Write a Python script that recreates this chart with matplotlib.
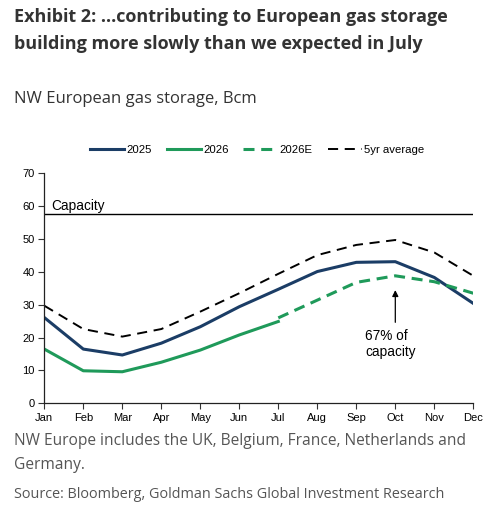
import matplotlib
matplotlib.use("Agg")
import matplotlib.pyplot as plt

# NW European gas storage, Bcm
months = ["Jan", "Feb", "Mar", "Apr", "May", "Jun", "Jul", "Aug", "Sep", "Oct", "Nov", "Dec"]
s2025 = [26.1, 16.5, 14.7, 18.3, 23.3, 29.4, 34.7, 40.1, 42.9, 43.1, 38.3, 30.4]
s2026 = [16.5, 9.9, 9.6, 12.5, 16.2, 20.8, 24.9]
s2026e = [26.0, 31.4, 36.8, 38.8, 37.0, 33.5]   # Jul..Dec
avg5 = [29.7, 22.6, 20.3, 22.6, 27.9, 33.5, 39.4, 45.1, 48.2, 49.7, 45.9, 38.8]
capacity = 57.5

navy = "#1b3d66"
green = "#1f9a5a"

fig = plt.figure(figsize=(5.0, 5.21), dpi=100)
W, H = 500, 521

def fx(px):
    return px / W

def fy(py):
    return 1 - py / H

ax = fig.add_axes([fx(44.3), fy(403.3), fx(473.3) - fx(44.3), fy(173.3) - fy(403.3)])

x = list(range(12))
ax.plot(x, s2025, color=navy, lw=2.2, label="2025")
ax.plot(x[:7], s2026, color=green, lw=2.2, label="2026")
ax.plot(x[6:], s2026e, color=green, lw=2.2, ls=(0, (3.6, 2.2)), label="2026E")
ax.plot(x, avg5, color="black", lw=1.4, ls=(0, (5.2, 3.4)), label="5yr average")
ax.axhline(capacity, color="black", lw=1.0)
ax.text(0.18, capacity + 0.5, "Capacity", fontsize=9.8, family="Liberation Sans", va="bottom")

ax.annotate("", xy=(9, 35.3), xytext=(9, 23.8),
            arrowprops=dict(arrowstyle="-|>", color="black", lw=0.9, mutation_scale=9))
ax.text(8.22, 22.6, "67% of\ncapacity", fontsize=9.8, family="Liberation Sans",
        va="top", ha="left", linespacing=1.2)

ax.set_xlim(0, 11)
ax.set_ylim(0, 70)
ax.set_xticks(x)
ax.set_xticklabels(months)
ax.set_yticks(range(0, 71, 10))
for sp in ["top", "right"]:
    ax.spines[sp].set_visible(False)
for sp in ["left", "bottom"]:
    ax.spines[sp].set_color("#222222")
    ax.spines[sp].set_linewidth(0.9)
ax.tick_params(direction="out", length=4, width=0.8, color="#333333",
               labelsize=8, pad=3)
for lab in ax.get_xticklabels() + ax.get_yticklabels():
    lab.set_family("Liberation Sans")

leg = ax.legend(loc="center", bbox_to_anchor=(0.496, 1.101), ncol=4, frameon=False,
                handlelength=3.0, handletextpad=0.2, columnspacing=1.3,
                prop={"family": "Liberation Sans", "size": 8.2})

title_font = "Open Sans"
fig.text(fx(14), fy(17), "Exhibit 2: ...contributing to European gas storage",
         fontsize=13, fontweight="bold", family=title_font, color="#333333", va="center")
fig.text(fx(14), fy(44), "building more slowly than we expected in July",
         fontsize=13, fontweight="bold", family=title_font, color="#333333", va="center")
fig.text(fx(14), fy(99), "NW European gas storage, Bcm",
         fontsize=12, family=title_font, color="#333333", va="center")
fig.text(fx(14), fy(441), "NW Europe includes the UK, Belgium, France, Netherlands and",
         fontsize=11.2, family=title_font, color="#555555", va="center")
fig.text(fx(14), fy(465), "Germany.",
         fontsize=11.2, family=title_font, color="#555555", va="center")
fig.text(fx(14), fy(495), "Source: Bloomberg, Goldman Sachs Global Investment Research",
         fontsize=10.4, family=title_font, color="#555555", va="center")

fig.savefig("out.png", dpi=100)
